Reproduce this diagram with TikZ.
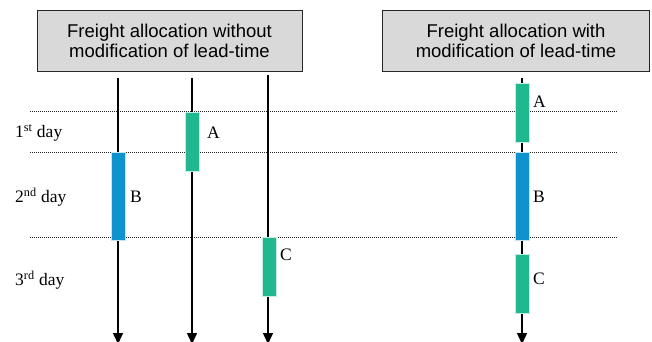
\documentclass[tikz,border=0pt]{standalone}
\usepackage{fontspec}
\setmainfont{Liberation Serif}
\newfontfamily\headfont{Liberation Sans}
\usetikzlibrary{arrows.meta}

\definecolor{loadgreen}{HTML}{20B98F}
\definecolor{loadblue}{HTML}{0E93CC}
\definecolor{headfill}{HTML}{D9D9D9}

\begin{document}
\begin{tikzpicture}[x=1pt, y=-1pt,
  headbox/.style={draw=black!85, line width=0.9pt, fill=headfill, align=center,
    inner sep=0pt, font=\headfont\fontsize{18.5}{20}\selectfont},
  timeline/.style={line width=1.5pt, -{Triangle[width=10pt,length=11pt]}},
  dayline/.style={line width=0.9pt, black!85, dash pattern=on 1pt off 1pt},
  loadbar/.style={rectangle, draw=white!75!#1, line width=0.6pt, fill=#1,
    minimum width=14pt, inner sep=0pt},
  lbl/.style={anchor=west, inner sep=0pt, font=\fontsize{17.5}{20}\selectfont},
]
\useasboundingbox (0,0) rectangle (652,341);

% headings
\node[headbox, minimum width=265pt, minimum height=61pt] (hL) at (169.5,40.5)
  {Freight allocation without\\modification of lead-time};
\node[headbox, minimum width=267pt, minimum height=61pt] (hR) at (516,40.5)
  {Freight allocation with\\modification of lead-time};

% day boundaries
\coordinate (d1a) at (30,111.5);  \coordinate (d1b) at (617,111.5);
\coordinate (d2a) at (30,152);    \coordinate (d2b) at (617,152);
\coordinate (d3a) at (30,237);    \coordinate (d3b) at (617,237);
\draw[dayline] (d1a) -- (d1b);
\draw[dayline] (d2a) -- (d2b);
\draw[dayline] (d3a) -- (d3b);

% time axes
\coordinate (t1) at (118,78);  \coordinate (e1) at (118,344);
\coordinate (t2) at (192,78);  \coordinate (e2) at (192,344);
\coordinate (t3) at (268,75);  \coordinate (e3) at (268,344);
\coordinate (t4) at (522,78);  \coordinate (e4) at (522,344);
\draw[timeline] (t1) -- (e1);
\draw[timeline] (t2) -- (e2);
\draw[timeline] (t3) -- (e3);
\draw[timeline] (t4) -- (e4);

% loads without lead-time change
\node[loadbar=loadgreen, minimum height=59pt] (lA) at (192,141.5) {};
\node[loadbar=loadblue,  minimum height=88pt] (lB) at (118.5,196) {};
\node[loadbar=loadgreen, minimum height=59pt] (lC) at (269,266.5) {};

% loads with lead-time change
\node[loadbar=loadgreen, minimum height=59pt] (rA) at (522,112.5) {};
\node[loadbar=loadblue,  minimum height=88pt] (rB) at (522,196) {};
\node[loadbar=loadgreen, minimum height=59pt] (rC) at (522,283.5) {};

% load labels
\node[lbl] (lAl) at (207,133) {A};
\node[lbl] (lBl) at (130,197) {B};
\node[lbl] (lCl) at (280,255) {C};
\node[lbl] (rAl) at (533,102) {A};
\node[lbl] (rBl) at (533,197) {B};
\node[lbl] (rCl) at (533,279) {C};

% day names
\node[lbl] (day1) at (15,133) {1\textsuperscript{st} day};
\node[lbl] (day2) at (15,197) {2\textsuperscript{nd} day};
\node[lbl] (day3) at (15,280) {3\textsuperscript{rd} day};
\end{tikzpicture}
\end{document}
